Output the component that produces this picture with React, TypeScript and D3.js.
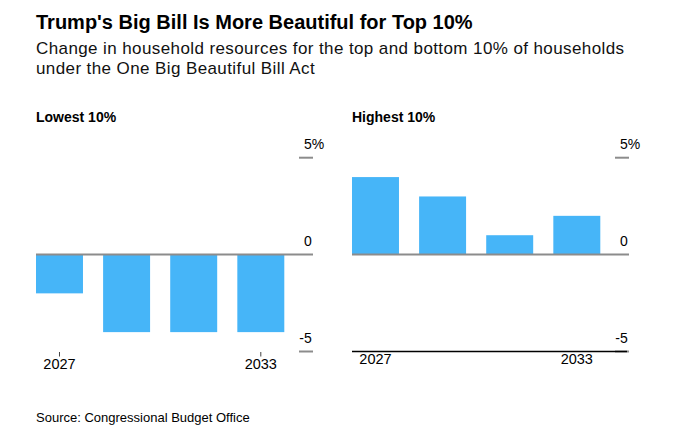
import React from "react";
import * as d3 from "d3";

const years = ["2027", "2029", "2031", "2033"];
const labeledYears = ["2027", "2033"];
const lowestValues = [-2, -4, -4, -4];
const highestValues = [4, 3, 1, 2];
const yTickValues = [5, 0, -5];
const yTickLabels = ["5%", "0", "-5"];

const title = "Trump's Big Bill Is More Beautiful for Top 10%";
const subtitleLines = [
  "Change in household resources for the top and bottom 10% of households",
  "under the One Big Beautiful Bill Act",
];
const source = "Source: Congressional Budget Office";

const W = 679;
const H = 446;
const FONT = "'Liberation Sans', Arial, Helvetica, sans-serif";
const BAR = "#46b5f8";
const GRID = "#8c8c8c";

type PanelProps = {
  x0: number;
  label: string;
  values: number[];
  variant: "left" | "right";
};

const y = d3.scaleLinear().domain([-5, 5]).range([351.5, 157.7]);

function Panel({ x0, label, values, variant }: PanelProps) {
  const width = 277;
  const x1 = x0 + width;
  const xb = d3.scaleBand<string>().domain(years).range([x0, x0 + 248.3]).paddingInner(0.3).paddingOuter(0);
  const tickLen = 14;
  return (
    <g>
      <text x={x0} y={122} fontFamily={FONT} fontSize={14} fontWeight="bold" fill="#000">
        {label}
      </text>
      {values.map((v, i) => (
        <rect
          key={years[i]}
          x={xb(years[i])}
          width={xb.bandwidth()}
          y={y(Math.max(0, v))}
          height={Math.abs(y(v) - y(0))}
          fill={BAR}
        />
      ))}
      <line x1={x0} x2={x1} y1={y(0)} y2={y(0)} stroke={GRID} strokeWidth={2} />
      {yTickValues.map((t) =>
        t === 0 ? null : (
          <line key={"t" + t} x1={x1 - tickLen} x2={x1} y1={y(t)} y2={y(t)} stroke={GRID} strokeWidth={2} />
        )
      )}
      {yTickValues.map((t, i) => (
        <text
          key={"l" + t}
          x={x1 - tickLen + 5}
          dx={t < 0 ? -4.7 : 0}
          y={y(t) - 9}
          fontFamily={FONT}
          fontSize={14}
          fill="#000"
        >
          {yTickLabels[i]}
        </text>
      ))}
      {variant === "right" && (
        <line x1={x0} x2={x1 - 2} y1={y(-5)} y2={y(-5)} stroke="#000" strokeWidth={1.3} />
      )}
      {labeledYears.map((yr) => {
        const cx = (xb(yr) as number) + xb.bandwidth() / 2;
        return (
          <g key={yr}>
            {variant === "left" && (
              <line x1={cx} x2={cx} y1={y(-5) + 0.5} y2={y(-5) + 5} stroke="#444" strokeWidth={1} />
            )}
            <text
              x={cx}
              y={variant === "left" ? 369 : 364}
              textAnchor="middle"
              fontFamily={FONT}
              fontSize={14.5}
              fill="#000"
            >
              {yr}
            </text>
          </g>
        );
      })}
    </g>
  );
}

export default function App() {
  return (
    <svg
      width={W}
      height={H}
      viewBox={`0 0 ${W} ${H}`}
      style={{ position: "absolute", left: 0, top: 0, display: "block", background: "#fff" }}
    >
      <rect width={W} height={H} fill="#fff" />
      <text x={36} y={28.5} fontFamily={FONT} fontSize={20} fontWeight="bold" fill="#000">
        {title}
      </text>
      {subtitleLines.map((s, i) => (
        <text
          key={i}
          x={36}
          y={54 + i * 20}
          fontFamily={FONT}
          fontSize={17}
          letterSpacing={0.4}
          fill="#111"
        >
          {s}
        </text>
      ))}
      <Panel x0={36} label="Lowest 10%" values={lowestValues} variant="left" />
      <Panel x0={352} label="Highest 10%" values={highestValues} variant="right" />
      <text x={36} y={421.5} fontFamily={FONT} fontSize={13} fill="#000">
        {source}
      </text>
    </svg>
  );
}
